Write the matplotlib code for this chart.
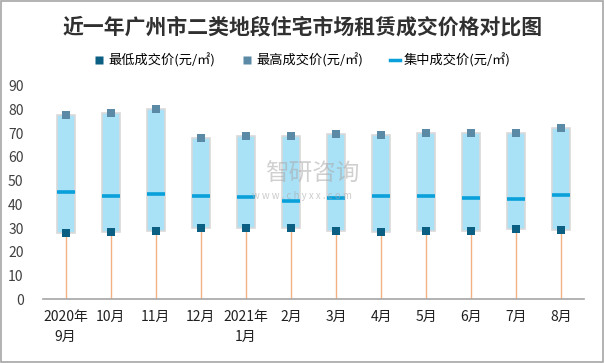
import matplotlib
matplotlib.use("Agg")
import matplotlib.pyplot as plt
from matplotlib.patches import Rectangle
from matplotlib.lines import Line2D

plt.rcParams['font.family'] = ['Noto Sans CJK SC', 'DejaVu Sans']

categories = ["2020年\n9月", "10月", "11月", "12月", "2021年\n1月", "2月", "3月", "4月",
              "5月", "6月", "7月", "8月"]
min_price = [27.8, 28.2, 28.6, 29.9, 29.9, 29.9, 28.9, 28.2, 28.6, 28.6, 29.5, 29.1]
max_price = [77.8, 78.4, 80.0, 67.8, 69.0, 69.0, 69.6, 69.4, 70.2, 70.0, 70.0, 72.3]
mid_price = [45.1, 43.4, 44.2, 43.4, 43.0, 41.3, 42.6, 43.4, 43.4, 42.6, 42.1, 43.8]
yticks = [0, 10, 20, 30, 40, 50, 60, 70, 80, 90]

fig = plt.figure(figsize=(6.05, 3.63), dpi=100)
ax = fig.add_axes([43/605, 1-299.3/363, 541/605, (299.3-85.7)/363])

x = list(range(len(categories)))
w = 0.4
box_col = "#A9E1F7"
edge_col = "#D9D9D9"
min_col = "#0B5F82"
max_col = "#5A8AA5"
mid_col = "#0AA0DA"
stem_col = "#F4B183"

ax.vlines(x, 0, min_price, color=stem_col, lw=1.0, zorder=1)
ax.bar(x, [hi - lo for hi, lo in zip(max_price, min_price)], bottom=min_price, width=w,
       color=box_col, edgecolor=edge_col, linewidth=1.2, zorder=2)
ax.hlines(mid_price, [i - w/2 for i in x], [i + w/2 for i in x], color=mid_col, lw=2.6, zorder=3)
ax.scatter(x, min_price, marker='s', s=30, color=min_col, zorder=4, linewidths=0)
ax.scatter(x, max_price, marker='s', s=30, color=max_col, zorder=4, linewidths=0)

ax.set_xlim(-0.5, len(categories) - 0.5)
ax.set_ylim(0, 90)
ax.set_yticks(yticks)
ax.set_yticklabels([str(t) for t in yticks], fontsize=10, color="#404040")
ax.set_xticks(x)
ax.set_xticklabels(categories, fontsize=10, color="#202020", linespacing=1.5)
ax.tick_params(axis='both', length=0)
ax.tick_params(axis='y', pad=14)
ax.tick_params(axis='x', pad=8)
for s in ['top', 'right', 'left']:
    ax.spines[s].set_visible(False)
ax.spines['bottom'].set_color("#A6A6A6")
ax.spines['bottom'].set_linewidth(1.2)

fig.text(0.5, 1 - 27/363, "近一年广州市二类地段住宅市场租赁成交价格对比图", ha='center', va='center',
         fontsize=15, fontweight='bold', color="#303030")

handles = [
    Line2D([], [], marker='s', color='none', markerfacecolor=min_col, markeredgecolor='none', markersize=6),
    Line2D([], [], marker='s', color='none', markerfacecolor=max_col, markeredgecolor='none', markersize=6),
    Line2D([], [], color=mid_col, lw=2.5),
]
labels = ["最低成交价(元/㎡)", "最高成交价(元/㎡)", "集中成交价(元/㎡)"]
fig.legend(handles, labels, loc='center', bbox_to_anchor=(0.5, 1 - 60/363), ncol=3, frameon=False,
           fontsize=9.5, handlelength=0.8, handletextpad=0.3, columnspacing=2.0)

fig.text(265/605, 1 - 174/363, "智研咨询", ha='left', va='center', fontsize=17, color="#AAAAAA",
         alpha=0.55, zorder=10)
fig.text(302/605, 1 - 196/363, "w w w . c h y x x . c o m", ha='center', va='center', fontsize=7,
         color="#AAAAAA", alpha=0.6, zorder=10)

fig.patches.append(Rectangle((0.002, 0.003), 0.995, 0.994, transform=fig.transFigure,
                             fill=False, edgecolor="#A6A6A6", lw=1.2))

fig.savefig("out.png", dpi=100)
